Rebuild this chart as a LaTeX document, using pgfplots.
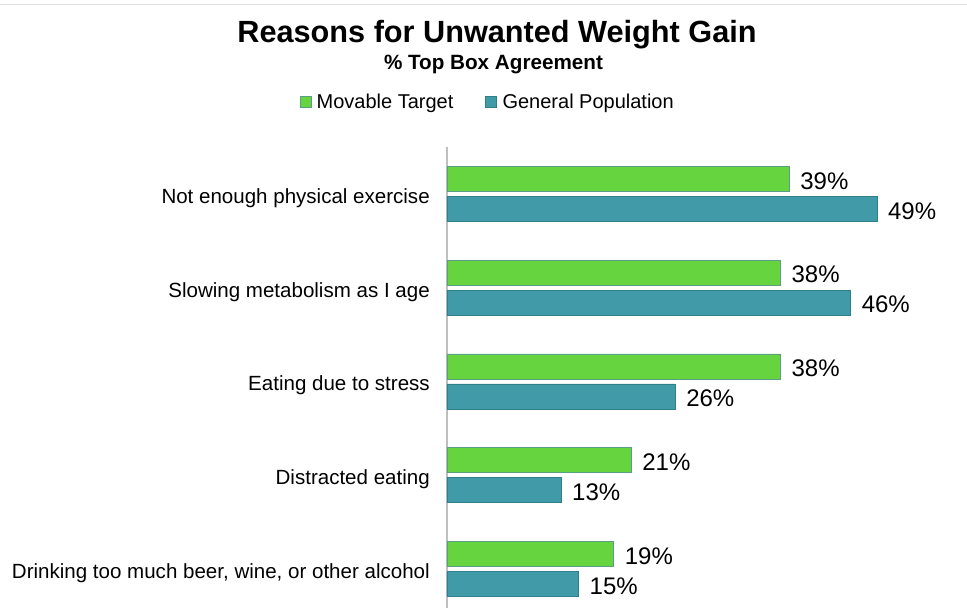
\documentclass[border=0pt]{standalone}
\usepackage{pgfplots}
\pgfplotsset{compat=1.18}
\usepackage{fontspec}
\setmainfont{Liberation Sans}
\definecolor{mtgreen}{HTML}{66D43F}
\definecolor{mtgreenedge}{HTML}{5A9E86}
\definecolor{gpteal}{HTML}{409AA8}
\definecolor{gptealedge}{HTML}{2F7F88}
\begin{document}
\begin{tikzpicture}
\useasboundingbox (0,0) rectangle (725.25pt,455.25pt);
\draw[black!12, line width=0.75pt] (0,451.5pt) -- (725.25pt,451.5pt);
\node[font=\fontsize{23}{27}\selectfont\bfseries] at (372.75pt,429pt) {Reasons for Unwanted Weight Gain};
\node[font=\fontsize{15.5}{18}\selectfont\bfseries] at (370.1pt,407pt) {\% Top Box Agreement};
\begin{axis}[
  at={(335.25pt,345.0pt)}, anchor=north west,
  scale only axis,
  width=388.35pt, height=351.75pt,
  xbar, bar width=18.75pt,
  xmin=0, xmax=59,
  ymin=-0.5, ymax=4.5,
  separate axis lines,
  axis x line=none,
  axis y line*=left,
  y axis line style={draw=black!25, line width=1.2pt},
  ytick={0,1,2,3,4},
  yticklabels={{Drinking too much beer, wine, or other alcohol},{Distracted eating},{Eating due to stress},{Slowing metabolism as I age},{Not enough physical exercise}},
  major tick length=0pt,
  yticklabel style={font=\fontsize{15.4}{18}\selectfont, anchor=east, inner sep=0pt, xshift=-12.75pt, yshift=-3pt},
  nodes near coords={\pgfmathprintnumber[assume math mode=true]{\pgfplotspointmeta}\%},
  every node near coord/.append style={font=\fontsize{18}{21}\selectfont, anchor=west, inner sep=0pt, xshift=8pt, yshift=-1.5pt, black},
  legend columns=2,
  legend style={at={(0.0792,1.096)}, anchor=center, draw=none, fill=none,
    font=\fontsize{15}{18}\selectfont, column sep=2pt,
    /tikz/every even column/.append style={column sep=22pt}},
  legend image code/.code={\draw[#1] (0pt,-4.1pt) rectangle (8.25pt,4.1pt);},
  clip=false,
]
\addplot[fill=mtgreen, draw=mtgreenedge, line width=0.6pt, bar shift=11.25pt]
  coordinates {(19,0) (21,1) (38,2) (38,3) (39,4)};
\addlegendentry{Movable Target}
\addplot[fill=gpteal, draw=gptealedge, line width=0.6pt, bar shift=-11.25pt]
  coordinates {(15,0) (13,1) (26,2) (46,3) (49,4)};
\addlegendentry{General Population}
\end{axis}
\end{tikzpicture}
\end{document}
